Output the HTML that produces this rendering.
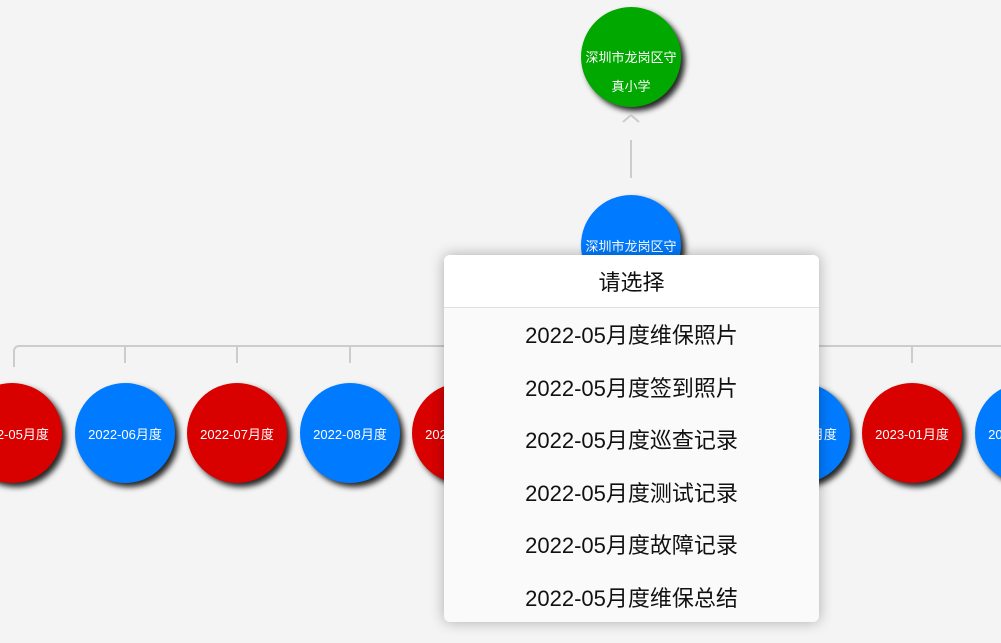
<!DOCTYPE html>
<html><head><meta charset="utf-8"><style>
html{overflow:hidden;width:1001px;height:643px}
body{margin:0;width:1001px;height:643px;background:#f4f4f4;overflow:hidden;font-family:"Liberation Sans","Noto Sans CJK SC",sans-serif}
#w{position:relative;width:1001px;height:643px;overflow:hidden}
.c{position:absolute;width:100px;height:100px;border-radius:50%;color:#fff;font-size:13px;display:flex;align-items:center;justify-content:center;text-align:center;box-shadow:4px 4px 6px rgba(0,0,0,.85)}
.r{background:#d90000}.b{background:#007bff}.g{background:#00a800}
.l{position:absolute;background:#ccc}
.pop{position:absolute;left:444px;top:255px;width:375px;height:367px;background:#fafafa;border-radius:6px;box-shadow:0 0 14px rgba(0,0,0,.3);overflow:hidden}
.t{height:52px;background:#fff;border-bottom:1px solid #e0e0e0;font-size:22px;line-height:56px;text-align:center;color:#111}
.i{height:52.5px;line-height:56px;text-align:center;font-size:22px;color:#111}
</style></head><body><div id="w">
<div class="c g" style="left:581px;top:7px;line-height:29px;padding:30px 4px 0;box-sizing:border-box">深圳市龙岗区守<br>真小学</div>
<svg style="position:absolute;left:622px;top:112px" width="18" height="12"><path d="M1 10 L9 3 L17 10" fill="none" stroke="#ccc" stroke-width="2"/></svg>
<div class="l" style="left:630px;top:140px;width:2px;height:38px"></div>
<div class="c b" style="left:581px;top:195px">深圳市龙岗区守</div>
<div class="l" style="left:20px;top:345px;width:981px;height:2px"></div>
<div style="position:absolute;left:13px;top:345px;width:10px;height:20px;border-left:2px solid #ccc;border-top:2px solid #ccc;border-top-left-radius:6px"></div>
<div class="l" style="left:124px;top:346px;width:2px;height:17px"></div>
<div class="l" style="left:236px;top:346px;width:2px;height:17px"></div>
<div class="l" style="left:349px;top:346px;width:2px;height:17px"></div>
<div class="l" style="left:911px;top:346px;width:2px;height:17px"></div>
<div class="c r" style="left:-38px;top:383px">2022-05月度</div>
<div class="c b" style="left:75px;top:383px">2022-06月度</div>
<div class="c r" style="left:187px;top:383px">2022-07月度</div>
<div class="c b" style="left:300px;top:383px">2022-08月度</div>
<div class="c r" style="left:412px;top:383px">2022-09月度</div>
<div class="c b" style="left:750px;top:383px">2022-12月度</div>
<div class="c r" style="left:862px;top:383px">2023-01月度</div>
<div class="c b" style="left:975px;top:383px">2023-02月度</div>
<div class="pop">
<div class="t">请选择</div>
<div class="i">2022-05月度维保照片</div>
<div class="i">2022-05月度签到照片</div>
<div class="i">2022-05月度巡查记录</div>
<div class="i">2022-05月度测试记录</div>
<div class="i">2022-05月度故障记录</div>
<div class="i">2022-05月度维保总结</div>
</div>
</div></body></html>
